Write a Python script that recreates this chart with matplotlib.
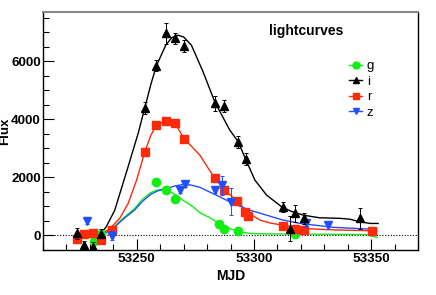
import matplotlib
matplotlib.use("Agg")
import matplotlib.pyplot as plt
from matplotlib.ticker import MultipleLocator
from matplotlib.lines import Line2D

plt.rcParams['font.family'] = ['Liberation Sans', 'DejaVu Sans']

# ---- data points ----
g_mjd = [53231.6, 53234.6, 53258.4, 53262.4, 53266.5, 53285.3, 53287.3, 53293.3, 53317.5]
g_flux = [-190, 40, 1860, 1550, 1240, 380, 240, 160, 60]

i_mjd = [53224.5, 53227.4, 53231.3, 53234.6, 53253.4, 53258.4, 53262.4, 53266.2, 53270.2,
         53283.3, 53287.3, 53293.3, 53296.5, 53312.5, 53315.3, 53317.5, 53321.4, 53345.3]
i_flux = [70, -335, -390, 60, 4390, 5850, 6965, 6790, 6530,
          4550, 4470, 3230, 2630, 990, 240, 760, 590, 590]
i_err = [200, 150, 150, 150, 200, 200, 360, 200, 200,
         250, 200, 200, 200, 180, 420, 300, 180, 350]

r_mjd = [53224.5, 53227.5, 53231.5, 53234.6, 53239.4, 53253.4, 53258.4, 53262.4, 53266.2,
         53270.2, 53283.3, 53287.3, 53292.9, 53296.2, 53297.3, 53312.5, 53317.5, 53321.4, 53350.3]
r_flux = [-130, 35, 70, -160, 185, 2870, 3800, 3950, 3880,
          3340, 1965, 1560, 1190, 815, 665, 340, 215, 180, 160]

z_mjd = [53228.8, 53239.4, 53268.4, 53270.5, 53283.3, 53286.2, 53290.2, 53322.0, 53331.4]
z_flux = [490, -10, 1560, 1765, 1560, 1735, 1170, 435, 360]
z_err = [80, 160, 80, 80, 100, 330, 450, 150, 150]

# ---- fitted light-curve traces ----
gc_mjd = [53234.0, 53237, 53240.6, 53244, 53249, 53252.5, 53256, 53258.5, 53261.2, 53264, 53266.9,
          53270, 53274, 53277, 53281, 53285.5, 53290, 53294, 53298.3, 53305, 53320, 53335, 53348, 53352.5]
gc_flux = [0, 120, 320, 580, 920, 1250, 1480, 1560, 1585, 1520, 1390,
           1200, 990, 780, 620, 400, 230, 125, 70, 55, 45, 40, 30, -70]

ic_mjd = [53234.0, 53237, 53240.6, 53246.3, 53250.6, 53253.4, 53256, 53258.4, 53262.4, 53265,
          53267.6, 53270, 53273.3, 53278.3, 53283.3, 53289.7, 53293.3, 53296.6, 53300.4, 53305.4,
          53311.8, 53316, 53321.1, 53328, 53336.8, 53341, 53345.3, 53349.6, 53353.0]
ic_flux = [0, 300, 870, 2365, 3520, 4390, 5200, 5850, 6560, 6820,
           6900, 6840, 6560, 5640, 4600, 3630, 3230, 2600, 1910, 1390,
           990, 830, 700, 610, 590, 560, 470, 415, 415]

rc_mjd = [53234.0, 53238.5, 53242.7, 53246.3, 53249.9, 53253.4, 53256, 53258.4, 53262.4, 53266.2,
          53270.2, 53276.9, 53283.3, 53287.6, 53293.3, 53296.9, 53302.6, 53307, 53312.5, 53321,
          53335, 53352.4]
rc_flux = [0, 240, 585, 1100, 1900, 2870, 3450, 3800, 3950, 3880,
           3340, 2770, 1965, 1560, 1160, 815, 530, 430, 350, 240, 190, 160]

zc_mjd = [53234.0, 53237, 53240.6, 53244, 53249, 53252.5, 53256, 53259, 53262.7, 53266, 53269.8,
          53273, 53276.9, 53280, 53284, 53291.2, 53298, 53305.4, 53312, 53319.7, 53333.9, 53352.4]
zc_flux = [0, 100, 290, 550, 870, 1180, 1420, 1540, 1620, 1700, 1760,
           1740, 1660, 1540, 1390, 1100, 880, 700, 540, 415, 280, 210]

green = '#11ee11'
red = '#ff2a0a'
blue = '#1f4fff'

fig = plt.figure(figsize=(4.36, 2.95), dpi=100)
ax = fig.add_axes([43/436, 1 - 250/295, (418-43)/436, (250-12)/295])

ax.axhline(0, color='black', lw=0.8, ls=(0, (1, 1.5)), zorder=1)

ax.plot(gc_mjd, gc_flux, color=green, lw=1.0, zorder=2)
ax.plot(ic_mjd, ic_flux, color='black', lw=1.0, zorder=2)
ax.plot(rc_mjd, rc_flux, color=red, lw=1.0, zorder=2)
ax.plot(zc_mjd, zc_flux, color=blue, lw=1.0, zorder=2)

ax.plot(g_mjd, g_flux, 'o', color=green, ms=6, mec=green, zorder=3)
ax.errorbar(i_mjd, i_flux, yerr=i_err, fmt='^', color='black', ms=6, elinewidth=0.7,
            capsize=1.5, capthick=0.7, zorder=4)
ax.plot(r_mjd, r_flux, 's', color=red, ms=6, zorder=3)
ax.errorbar(z_mjd, z_flux, yerr=z_err, fmt='v', color=blue, ms=6, elinewidth=0.7,
            capsize=1.5, capthick=0.7, zorder=3)

ax.set_xlim(53210, 53370)
ax.set_ylim(-500, 7700)
ax.xaxis.set_major_locator(MultipleLocator(50))
ax.xaxis.set_minor_locator(MultipleLocator(10))
ax.yaxis.set_major_locator(MultipleLocator(2000))
ax.yaxis.set_minor_locator(MultipleLocator(500))
ax.tick_params(which='both', direction='in', top=False, right=False, labelsize=9.7, width=0.8)
ax.tick_params(which='major', length=8)
ax.tick_params(which='minor', length=4)
ax.tick_params(axis='y', which='major', pad=1.5)
ax.tick_params(axis='x', which='major', pad=2.5)
for lab in ax.get_xticklabels() + ax.get_yticklabels():
    lab.set_fontweight('bold')

ax.spines['top'].set_color('#888888')
ax.spines['top'].set_linewidth(1.5)
for s in ['left', 'bottom', 'right']:
    ax.spines[s].set_linewidth(1.0)
    ax.spines[s].set_color('black')

fig.text(231/436, 1 - 276/295, 'MJD', ha='center', va='center', fontsize=10, fontweight='bold')
fig.text(5.5/436, 1 - 131/295, 'Flux', ha='center', va='center', rotation=90, fontsize=9.5,
         fontweight='bold')
fig.text(306/436, 1 - 31/295, 'lightcurves', ha='center', va='center', fontsize=10,
         fontweight='bold')

handles = [
    Line2D([], [], color=green, marker='o', ms=5, lw=1.0),
    Line2D([], [], color='black', marker='^', ms=5, lw=1.0),
    Line2D([], [], color=red, marker='s', ms=5, lw=1.0),
    Line2D([], [], color=blue, marker='v', ms=5, lw=1.0),
]
ax.legend(handles, ['g', 'i', 'r', 'z'], loc='upper left',
          bbox_to_anchor=((349-43)/375, (250-60)/238), frameon=False,
          fontsize=9.5, handlelength=1.0, handletextpad=0.35, labelspacing=0.25,
          borderaxespad=0, borderpad=0)

fig.savefig('out.png', dpi=100)
